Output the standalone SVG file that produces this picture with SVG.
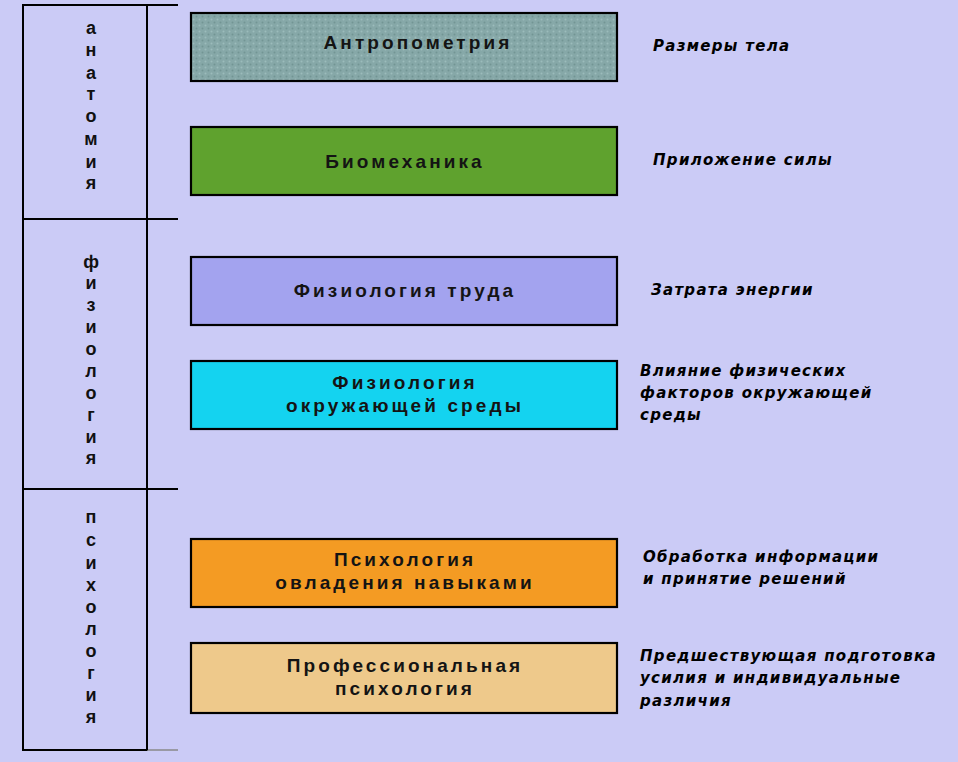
<svg xmlns="http://www.w3.org/2000/svg" width="958" height="762" viewBox="0 0 958 762">
<style>
.bg{fill:#cbcbf6}
.frame{fill:none;stroke:#000;stroke-width:2}
.box{stroke:#000;stroke-width:2.2}
.lbl{font-family:"Liberation Sans",Arial,sans-serif;font-weight:bold;font-size:19px;letter-spacing:3.1px;fill:#141414;text-anchor:middle}
.vert{font-family:"Liberation Sans",Arial,sans-serif;font-weight:bold;font-size:18px;fill:#111;text-anchor:middle}
.note{font-family:"DejaVu Sans","Liberation Sans",sans-serif;font-weight:bold;font-style:italic;font-size:15px;letter-spacing:1.3px;fill:#000}
</style>
<defs>
<pattern id="tex" width="6" height="6" patternUnits="userSpaceOnUse">
<rect width="6" height="6" fill="#86a8a8"/>
<circle cx="1.5" cy="1.5" r="1" fill="#9bbcbb"/>
<circle cx="4.5" cy="4.5" r="1" fill="#729594"/>
</pattern>
</defs>
<rect class="bg" x="0" y="0" width="958" height="762"/>

<g id="sidebar">
<rect x="23" y="5" width="124" height="745" fill="#cdcdf8" class="frame"/>
<line x1="23" y1="5" x2="178" y2="5" stroke="#000" stroke-width="2"/>
<line x1="23" y1="219" x2="178" y2="219" stroke="#000" stroke-width="2"/>
<line x1="23" y1="489" x2="178" y2="489" stroke="#000" stroke-width="2"/>
<line x1="147" y1="750" x2="178" y2="750" stroke="#888" stroke-width="1.5"/>
<line x1="147" y1="5" x2="147" y2="750" stroke="#000" stroke-width="2"/>
</g>

<g id="cat-anatomy">
<text class="vert" x="91">
<tspan x="91" y="34">а</tspan><tspan x="91" y="56">н</tspan><tspan x="91" y="79">а</tspan><tspan x="91" y="100">т</tspan><tspan x="91" y="122">о</tspan><tspan x="91" y="145">м</tspan><tspan x="91" y="168">и</tspan><tspan x="91" y="189">я</tspan>
</text>
</g>
<g id="cat-physiology">
<text class="vert" x="91">
<tspan x="91" y="268">ф</tspan><tspan x="91" y="289">и</tspan><tspan x="91" y="311">з</tspan><tspan x="91" y="333">и</tspan><tspan x="91" y="355">о</tspan><tspan x="91" y="377">л</tspan><tspan x="91" y="399">о</tspan><tspan x="91" y="421">г</tspan><tspan x="91" y="443">и</tspan><tspan x="91" y="464">я</tspan>
</text>
</g>
<g id="cat-psychology">
<text class="vert" x="91">
<tspan x="91" y="523">п</tspan><tspan x="91" y="546">с</tspan><tspan x="91" y="569">и</tspan><tspan x="91" y="591">х</tspan><tspan x="91" y="613">о</tspan><tspan x="91" y="635">л</tspan><tspan x="91" y="657">о</tspan><tspan x="91" y="679">г</tspan><tspan x="91" y="701">и</tspan><tspan x="91" y="723">я</tspan>
</text>
</g>

<g id="n1">
<rect class="box" x="191" y="13" width="426" height="68" fill="url(#tex)"/>
<text class="lbl" x="418" y="49">Антропометрия</text>
</g>
<g id="n2">
<rect class="box" x="191" y="127" width="426" height="68" fill="#5fa22e"/>
<text class="lbl" x="405" y="168">Биомеханика</text>
</g>
<g id="n3">
<rect class="box" x="191" y="257" width="426" height="68" fill="#a3a3ef"/>
<text class="lbl" x="405" y="297">Физиология труда</text>
</g>
<g id="n4">
<rect class="box" x="191" y="361" width="426" height="68" fill="#14d3f0"/>
<text class="lbl" x="405" y="389">Физиология</text>
<text class="lbl" x="405" y="412">окружающей среды</text>
</g>
<g id="n5">
<rect class="box" x="191" y="539" width="426" height="68" fill="#f49b23"/>
<text class="lbl" x="405" y="566">Психология</text>
<text class="lbl" x="405" y="589">овладения навыками</text>
</g>
<g id="n6">
<rect class="box" x="191" y="643" width="426" height="70" fill="#eec98b"/>
<text class="lbl" x="405" y="672">Профессиональная</text>
<text class="lbl" x="405" y="695">психология</text>
</g>

<g id="notes">
<text class="note" x="653" y="51">Размеры тела</text>
<text class="note" x="653" y="165">Приложение силы</text>
<text class="note" x="651" y="295">Затрата энергии</text>
<text class="note" x="640" y="376">Влияние физических</text>
<text class="note" x="640" y="398">факторов окружающей</text>
<text class="note" x="640" y="420">среды</text>
<text class="note" x="643" y="562">Обработка информации</text>
<text class="note" x="643" y="584">и принятие решений</text>
<text class="note" x="640" y="661">Предшествующая подготовка</text>
<text class="note" x="640" y="683">усилия и индивидуальные</text>
<text class="note" x="640" y="706">различия</text>
</g>
</svg>
